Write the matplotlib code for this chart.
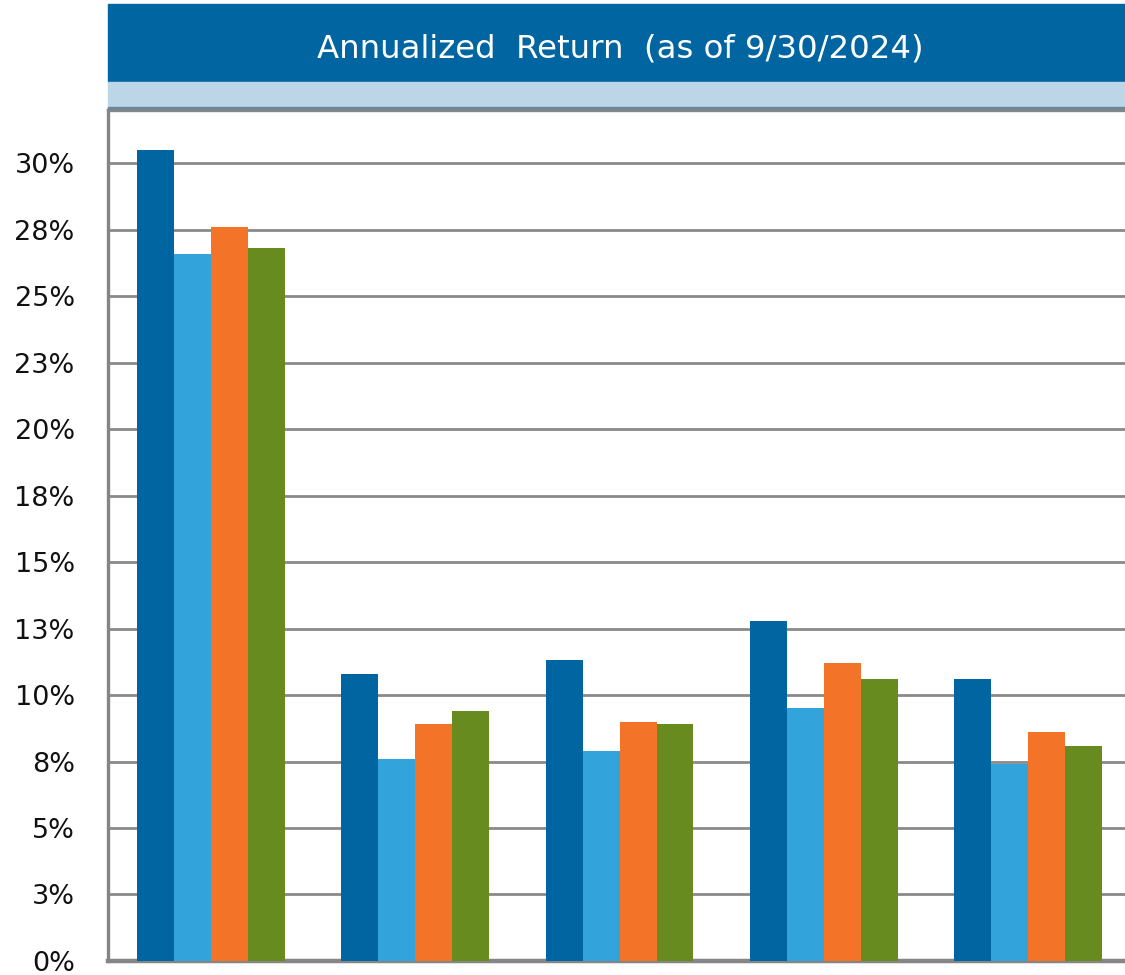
import matplotlib.pyplot as plt
from matplotlib.patches import Rectangle

# annualized return by period, four series per group
groups = ['1 Yr', '3 Yr', '5 Yr', '10 Yr', 'Since Inception']
series_a = [30.5, 10.8, 11.3, 12.8, 10.6]
series_b = [26.6, 7.6, 7.9, 9.5, 7.4]
series_c = [27.6, 8.9, 9.0, 11.2, 8.6]
series_d = [26.8, 9.4, 8.9, 10.6, 8.1]
colors = ['#0065A1', '#33A3DC', '#F37329', '#678B1E']

yticks = [0, 2.5, 5, 7.5, 10, 12.5, 15, 17.5, 20, 22.5, 25, 27.5, 30]
ylabels = ['0%', '3%', '5%', '8%', '10%', '13%', '15%', '18%', '20%', '23%', '25%', '28%', '30%']
title = 'Annualized  Return  (as of 9/30/2024)'

fig = plt.figure(figsize=(11.25, 9.75), dpi=100)
ax = fig.add_axes([0.096, 0.0144, 0.904, 0.8728])

w = 0.181
x = list(range(len(groups)))
for k, vals in enumerate([series_a, series_b, series_c, series_d]):
    ax.bar([i + (k - 1.5) * w + 0.005 for i in x], vals, width=w, color=colors[k], zorder=3)

ax.set_xlim(-0.5, 4.48)
ax.set_ylim(0, 32)
ax.set_xticks([])
ax.set_yticks(yticks)
ax.set_yticklabels(ylabels)
ax.tick_params(axis='y', length=0, pad=24, labelsize=19.5, labelcolor='#111111')

ax.grid(axis='y', color='#8a8a8a', linewidth=2.0, zorder=0)
ax.spines['right'].set_visible(False)
for s in ['left', 'top']:
    ax.spines[s].set_color('#858585')
    ax.spines[s].set_linewidth(2.4)
ax.spines['bottom'].set_color('#858585')
ax.spines['bottom'].set_linewidth(3.2)

# header band
fig.patches.append(Rectangle((0.096, 0.9159), 0.904, 0.080, transform=fig.transFigure,
                             color='#0065A1', zorder=5))
fig.patches.append(Rectangle((0.096, 0.8892), 0.904, 0.0267, transform=fig.transFigure,
                             color='#BCD6E7', zorder=5))
fig.patches.append(Rectangle((0.096, 0.8884), 0.904, 0.0022, transform=fig.transFigure,
                             color='#6C8798', zorder=5))
fig.text(0.551, 0.950, title, color='white', fontsize=23.3, ha='center', va='center', zorder=6)

plt.savefig('out.png', dpi=100)
